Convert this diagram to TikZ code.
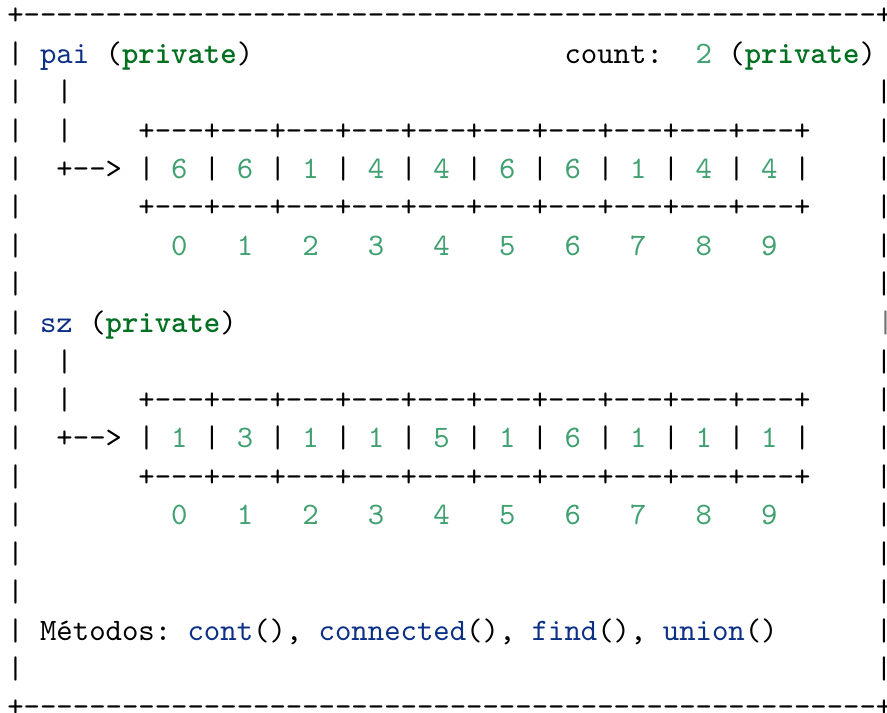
\documentclass[tikz,border=0pt]{standalone}
\usepackage{fontspec}
\setmonofont{lmmono10-regular.otf}[BoldFont=lmmonolt10-bold.otf]
\definecolor{fncol}{HTML}{0B2F85}
\definecolor{numcol}{HTML}{40A070}
\definecolor{kwcol}{HTML}{007020}
\ExplSyntaxOn
\cs_new:Npn \myrep #1#2 { \prg_replicate:nn {#1} {#2} }
\ExplSyntaxOff
\newcommand\pkw[1]{\textcolor{kwcol}{\bfseries #1}}
\newcommand\pnum[1]{\textcolor{numcol}{#1}}
\newcommand\pfn[1]{\textcolor{fncol}{#1}}
\newcommand\cellrow{\myrep{10}{+---}+}
\begin{document}
\begin{tikzpicture}[x=0.32032pt,y=-0.32032pt,
  row/.style={anchor=base west,inner sep=0pt,outer sep=0pt,font=\fontsize{10}{12}\selectfont\ttfamily}]
\useasboundingbox (0,0) rectangle (887,713);
\def\X{7.3}
\node[row] (r0) at (\X,24) {+\myrep{52}{-}+};
\node[row] (r1) at (\X,63.5) {|~\pfn{pai}~(\pkw{private})\myrep{19}{~}count:~~\pnum{2}~(\pkw{private})};
\node[row] (r2) at (\X,101.5) {|~~|\myrep{49}{~}|};
\node[row] (r3) at (\X,140) {|~~|~~~~\cellrow~~~~|};
\node[row] (r4) at (\X,178.5) {|~~+-->~|~\pnum{6}~|~\pnum{6}~|~\pnum{1}~|~\pnum{4}~|~\pnum{4}~|~\pnum{6}~|~\pnum{6}~|~\pnum{1}~|~\pnum{4}~|~\pnum{4}~|~~~~|};
\node[row] (r5) at (\X,217) {|~~~~~~~\cellrow~~~~|};
\node[row] (r6) at (\X,255.5) {|\myrep{9}{~}\pnum{0}~~~\pnum{1}~~~\pnum{2}~~~\pnum{3}~~~\pnum{4}~~~\pnum{5}~~~\pnum{6}~~~\pnum{7}~~~\pnum{8}~~~\pnum{9}\myrep{6}{~}|};
\node[row] (r7) at (\X,294) {|\myrep{52}{~}|};
\node[row] (r8) at (\X,332.5) {|~\pfn{sz}~(\pkw{private})};
\node[row,text=black!55] (r8b) at ({\X+53*16.39+1.5},332.5) {|};
\node[row] (r9) at (\X,371) {|~~|\myrep{49}{~}|};
\node[row] (r10) at (\X,409.5) {|~~|~~~~\cellrow~~~~|};
\node[row] (r11) at (\X,448) {|~~+-->~|~\pnum{1}~|~\pnum{3}~|~\pnum{1}~|~\pnum{1}~|~\pnum{5}~|~\pnum{1}~|~\pnum{6}~|~\pnum{1}~|~\pnum{1}~|~\pnum{1}~|~~~~|};
\node[row] (r12) at (\X,486.5) {|~~~~~~~\cellrow~~~~|};
\node[row] (r13) at (\X,525) {|\myrep{9}{~}\pnum{0}~~~\pnum{1}~~~\pnum{2}~~~\pnum{3}~~~\pnum{4}~~~\pnum{5}~~~\pnum{6}~~~\pnum{7}~~~\pnum{8}~~~\pnum{9}\myrep{6}{~}|};
\node[row] (r14) at (\X,563.5) {|\myrep{52}{~}|};
\node[row] (r15) at (\X,602) {|\myrep{52}{~}|};
\node[row] (r16) at (\X,640.5) {|~Métodos:~\pfn{cont}(),~\pfn{connected}(),~\pfn{find}(),~\pfn{union}()\myrep{6}{~}|};
\node[row] (r17) at (\X,679) {|\myrep{52}{~}|};
\node[row] (r18) at (\X,717) {+\myrep{52}{-}+};
\end{tikzpicture}
\end{document}
